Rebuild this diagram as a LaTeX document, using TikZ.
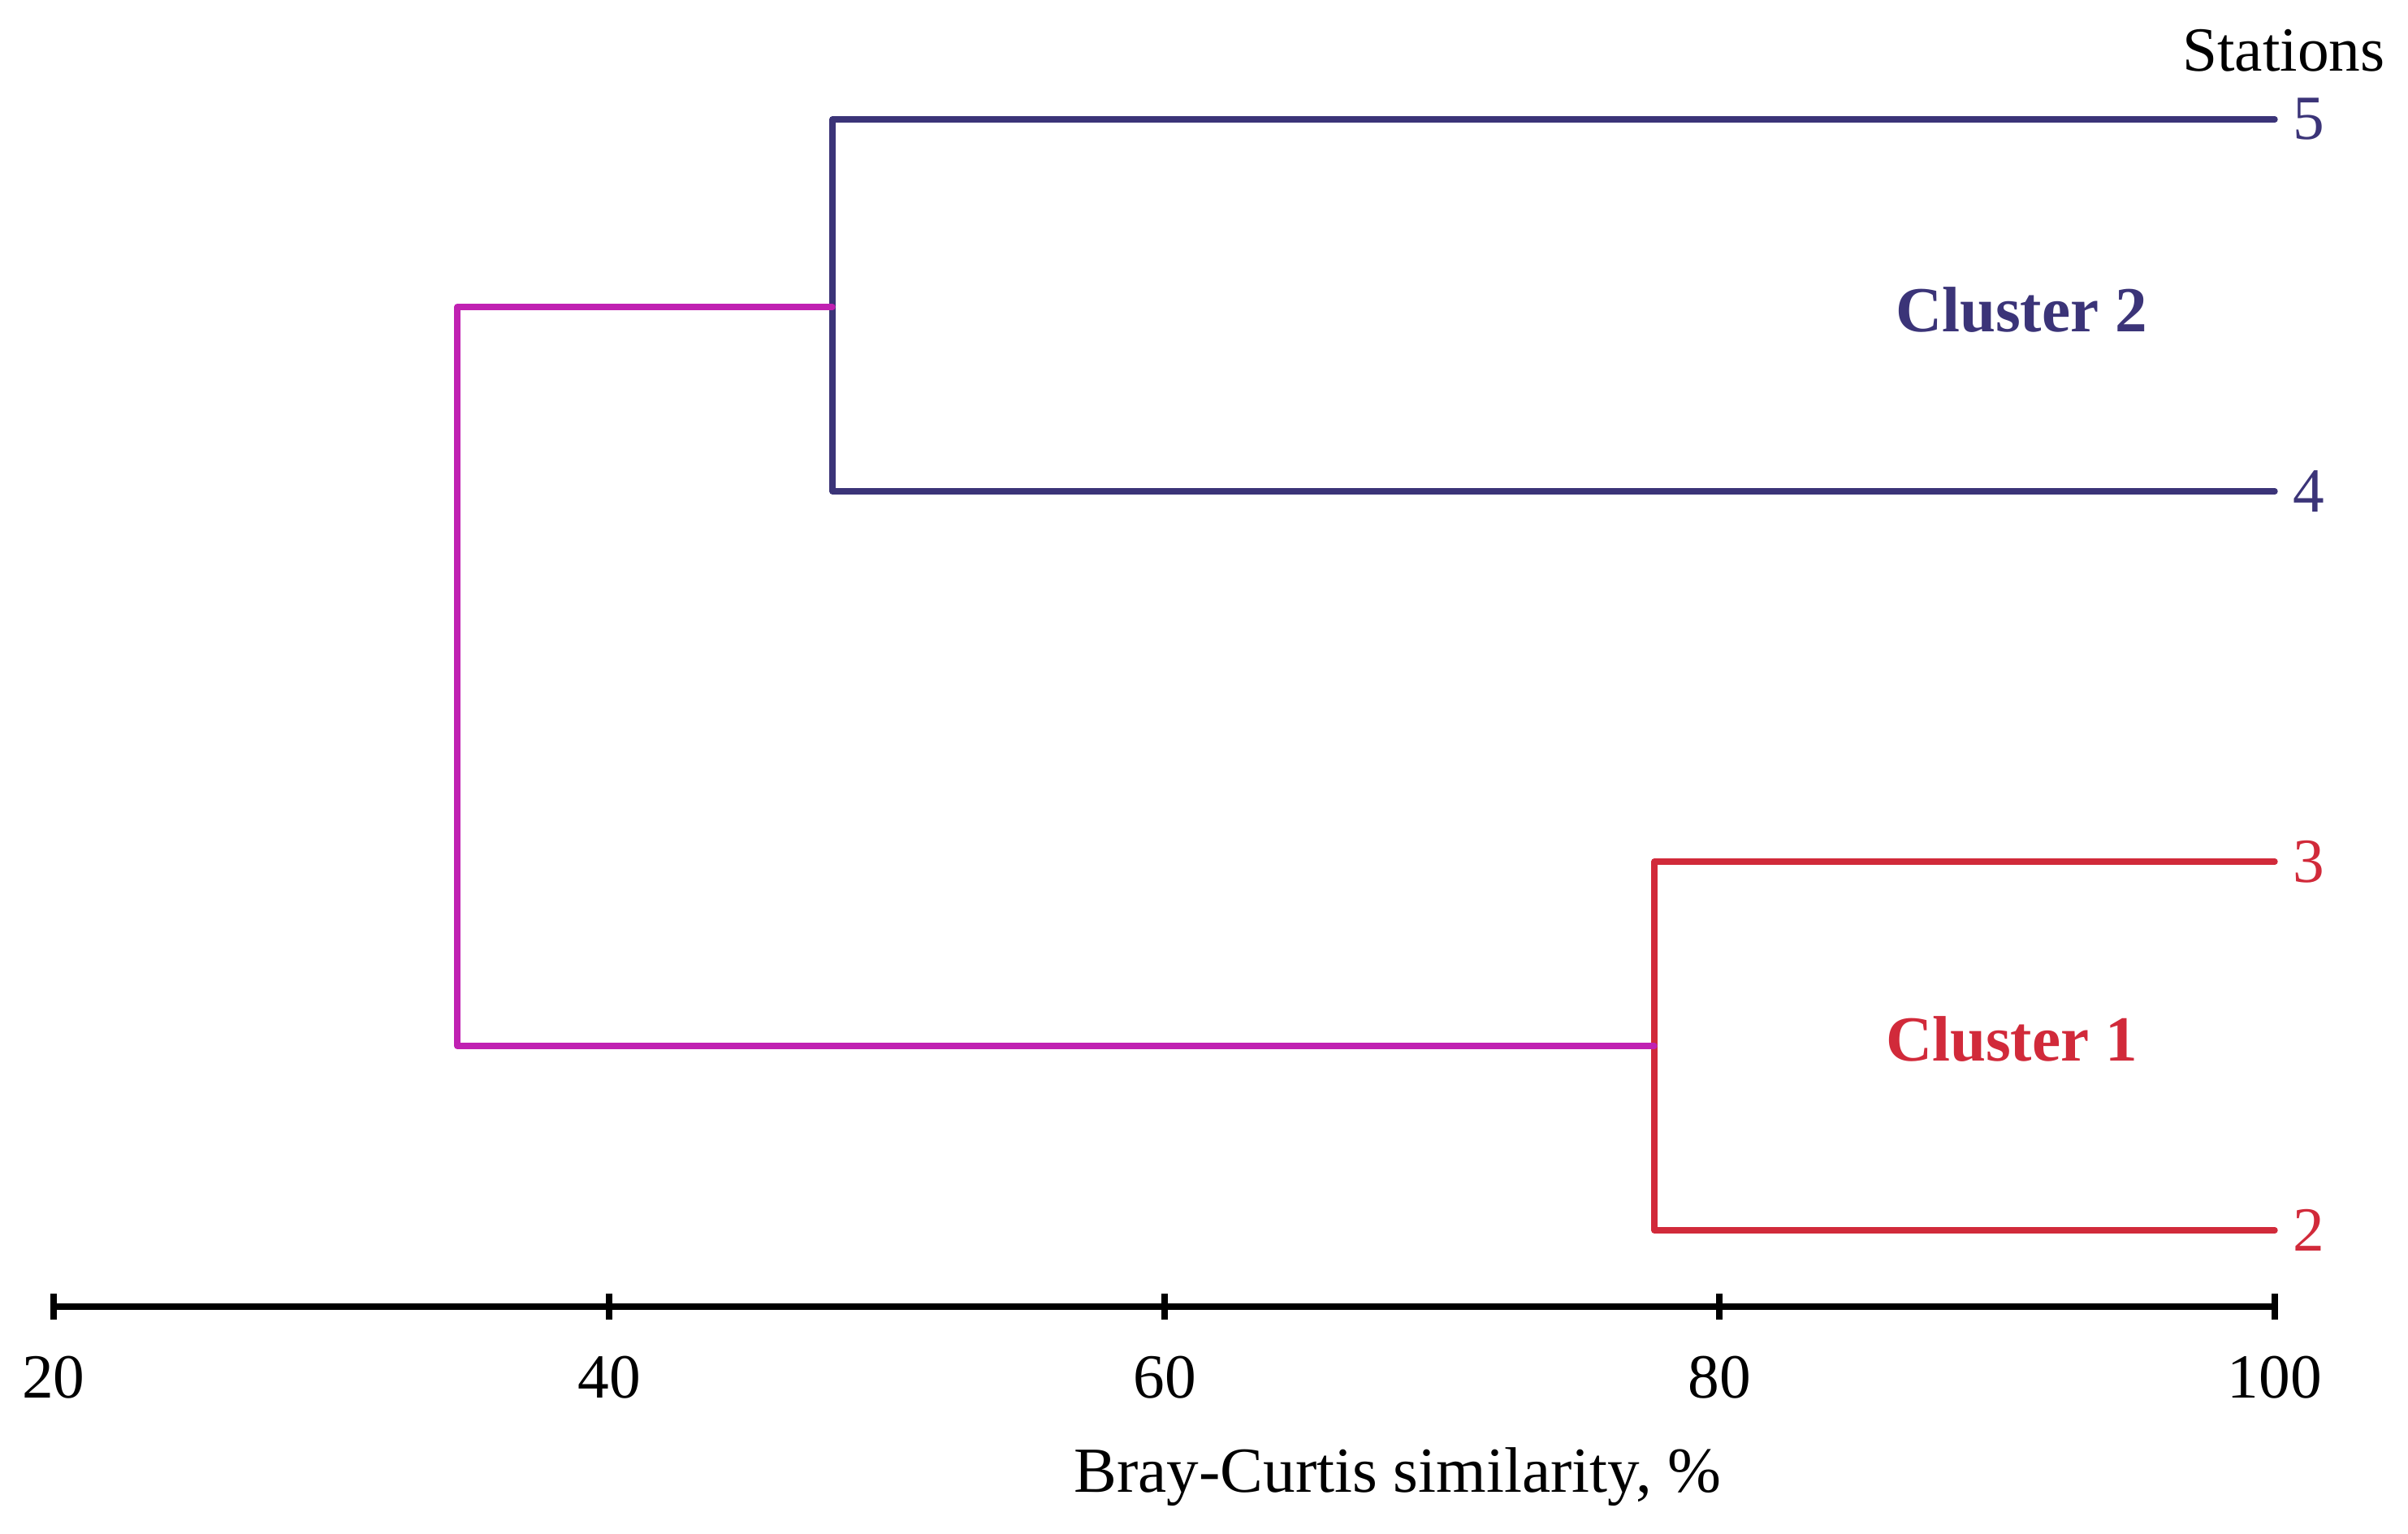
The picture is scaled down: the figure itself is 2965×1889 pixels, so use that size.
\documentclass[tikz,border=0pt]{standalone}
\usepackage{fontspec}
\setmainfont{Liberation Serif}
\definecolor{cltblue}{HTML}{3B3478}
\definecolor{cltred}{HTML}{D12A3A}
\definecolor{cltmag}{HTML}{C021B2}
\tikzset{
  branch/.style={line width=2.1pt, line cap=round, line join=round},
  leaflab/.style={anchor=west, inner sep=0pt, font=\fontsize{22}{24}\selectfont},
  clab/.style={inner sep=0pt, font=\fontsize{22.5}{24}\selectfont\bfseries},
  ticklab/.style={inner sep=0pt, font=\fontsize{22}{24}\selectfont},
  axisline/.style={line width=2.4pt},
}
\begin{document}
\begin{tikzpicture}[x=0.01cm,y=-0.01cm]
\useasboundingbox (0,0) rectangle (2965,1889);
% leaf ends
\coordinate (l5) at (2801,147);
\coordinate (l4) at (2801,605);
\coordinate (l3) at (2801,1061);
\coordinate (l2) at (2801,1515);
% joins
\coordinate (c2) at (1025,378);
\coordinate (c1) at (2037,1288);
\coordinate (r) at (563,833);
% labels
\node[leaflab, text=cltblue] (n5) at (2823,147) {5};
\node[leaflab, text=cltblue] (n4) at (2823,605) {4};
\node[leaflab, text=cltred] (n3) at (2823,1061) {3};
\node[leaflab, text=cltred] (n2) at (2823,1515) {2};
\node[ticklab] (st) at (2812,62) {Stations};
\node[clab, text=cltblue] (cl2) at (2489,382) {Cluster 2};
\node[clab, text=cltred] (cl1) at (2477,1280) {Cluster 1};
% cluster 2
\draw[branch, cltblue] (l5) -- (l5 -| c2) -- (l4 -| c2) -- (l4);
% cluster 1
\draw[branch, cltred] (l3) -- (l3 -| c1) -- (l2 -| c1) -- (l2);
% root
\draw[branch, cltmag] (c2) -- (c2 -| r) -- (c1 -| r) -- (c1);
% axis
\coordinate (a20) at (66,1609);
\coordinate (a40) at (750,1609);
\coordinate (a60) at (1434,1609);
\coordinate (a80) at (2117,1609);
\coordinate (a100) at (2801,1609);
\draw[axisline] (a20) -- (a100);
\foreach \p/\v in {a20/20,a40/40,a60/60,a80/80,a100/100}{
  \draw[axisline] ([yshift=-0.16cm]\p) -- ([yshift=0.16cm]\p);
  \node[ticklab] (t\v) at ([yshift=-0.87cm]\p) {\v};
}
\node[ticklab, font=\fontsize{22.5}{24}\selectfont] (xt) at (1721,1819) {Bray-Curtis similarity, \%};
\end{tikzpicture}
\end{document}
